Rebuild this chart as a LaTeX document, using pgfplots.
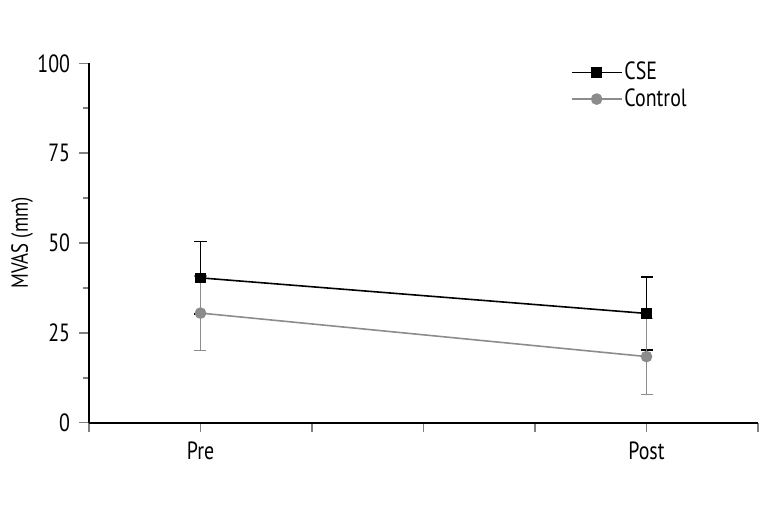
\documentclass[border=0pt]{standalone}
\usepackage{fontspec}
\setmainfont{PT Sans}[FakeStretch=0.8]
\usepackage{pgfplots}
\pgfplotsset{compat=1.18}
\definecolor{ctrlgray}{HTML}{8C8C8C}
\begin{document}
\fontsize{25}{30}\selectfont
\begin{tikzpicture}
  \useasboundingbox (-89bp,-91.3bp) rectangle (682bp,422.7bp);
  \begin{axis}[
      at={(0,0)}, anchor=south west,
      scale only axis, width=669bp, height=359.4bp,
      xmin=0, xmax=6, ymin=0, ymax=100,
      axis lines=left, axis line style={-, line width=1.7pt},
      xtick={0,1,2,3,4,5,6}, xticklabels={,Pre,,,,Post,},
      ytick={0,25,50,75,100},
      minor ytick={12.5,37.5,62.5,87.5},
      tick align=outside,
      major tick length=9.5bp, minor tick length=6bp,
      x tick style={line width=1.5pt},
      y tick style={line width=1.5pt},
      /pgf/number format/assume math mode=true,
      tick label style={font=\fontsize{25}{30}\selectfont},
      xticklabel style={yshift=-1bp},
      yticklabel style={xshift=-1bp},
      ylabel={MVAS (mm)},
      ylabel style={at={(axis description cs:-0.1,0.5)}, anchor=center, font=\fontsize{23.5}{28}\selectfont},
      legend style={at={(axis description cs:0.72,1.01)}, anchor=north west, draw=none, fill=none,
        font=\fontsize{25}{30}\selectfont, row sep=1bp, inner sep=0pt},
      legend cell align=left,
      legend image code/.code={
        \draw[mark repeat=2, mark phase=2] plot coordinates {(0bp,0bp) (25bp,0bp) (50bp,0bp)};
      },
      clip=false,
    ]
    \addplot[black, line width=1.6pt, mark=square*, mark size=4.5bp,
      error bars/.cd, y dir=both, y explicit,
      error bar style={line width=1.6pt},
      error mark options={rotate=90, mark size=6bp, line width=1.6pt}]
      coordinates {
        (1,40.3) +- (0,10.1)
        (5,30.4) +- (0,10.2)
      };
    \addlegendentry{CSE}
    \addplot[ctrlgray, line width=1.6pt, mark=*, mark size=5bp,
      error bars/.cd, y dir=both, y explicit,
      error bar style={line width=1.6pt},
      error mark options={rotate=90, mark size=6bp, line width=1.6pt}]
      coordinates {
        (1,30.5) +- (0,10.4)
        (5,18.4) +- (0,10.6)
      };
    \addlegendentry{Control}
  \end{axis}
\end{tikzpicture}
\end{document}
